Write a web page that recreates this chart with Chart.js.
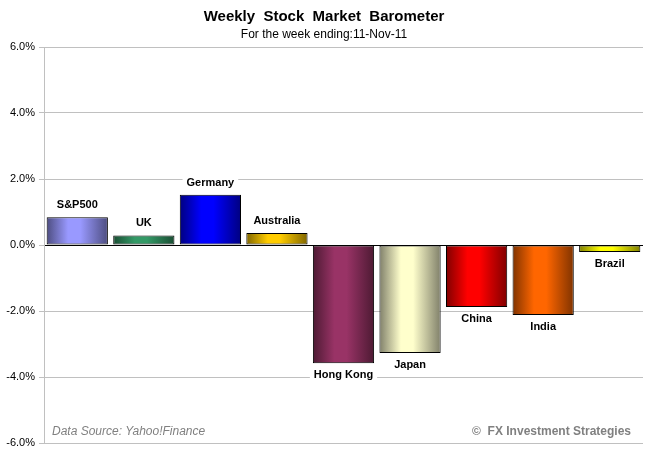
<!DOCTYPE html>
<html>
<head>
<meta charset="utf-8">
<title>Weekly Stock Market Barometer</title>
<script src="https://cdn.jsdelivr.net/npm/chart.js@4.4.1/dist/chart.umd.min.js"></script>
<style>
  body { margin: 0; background: #fff; }
  canvas { display: block; }
</style>
</head>
<body>
<canvas id="myChart" width="647" height="458"></canvas>
<script>
// weekly % change per market
const countries = ['S&P500', 'UK', 'Germany', 'Australia', 'Hong Kong', 'Japan', 'China', 'India', 'Brazil'];
const weeklyChange = [0.84, 0.29, 1.52, 0.36, -3.58, -3.27, -1.88, -2.12, -0.21];
const edgeColors = ['#4d4d80', '#1a4d33', '#000080', '#806600', '#4d1a33', '#80806a', '#800000', '#803300', '#808000'];
const midColors = ['#9999ff', '#339966', '#0000ff', '#ffcc00', '#993366', '#ffffcc', '#ff0000', '#ff6600', '#ffff00'];
const yMin = -6, yMax = 6, yStep = 2;

const FONT = '"Liberation Sans", Arial, sans-serif';

// horizontal "cylinder" gradient for each bar
const barGradients = {
  id: 'barGradients',
  beforeDatasetsDraw(chart) {
    const ctx = chart.ctx;
    chart.getDatasetMeta(0).data.forEach(function (bar, i) {
      const x0 = bar.x - bar.width / 2, x1 = bar.x + bar.width / 2;
      const g = ctx.createLinearGradient(x0, 0, x1, 0);
      g.addColorStop(0, edgeColors[i]);
      g.addColorStop(0.35, midColors[i]);
      g.addColorStop(0.55, midColors[i]);
      g.addColorStop(1, edgeColors[i]);
      bar.options.backgroundColor = g;
    });
  }
};

// titles, bar labels and footer
const extraText = {
  id: 'extraText',
  afterDraw(chart) {
    const ctx = chart.ctx;
    ctx.save();
    ctx.fillStyle = '#000';
    ctx.textAlign = 'center';
    ctx.textBaseline = 'middle';
    ctx.font = 'bold 15px ' + FONT;
    ctx.fillText('Weekly  Stock  Market  Barometer', 324, 17);
    ctx.font = '12px ' + FONT;
    ctx.fillText('For the week ending:11-Nov-11', 324, 35);

    ctx.font = 'bold 11px ' + FONT;
    chart.getDatasetMeta(0).data.forEach(function (bar, i) {
      const v = weeklyChange[i];
      const y = v >= 0 ? bar.y - 12 : bar.y + 12;
      const w = ctx.measureText(countries[i]).width;
      ctx.fillStyle = '#fff';
      ctx.fillRect(bar.x - w / 2 - 4, y - 7, w + 8, 14);
      ctx.fillStyle = '#000';
      ctx.fillText(countries[i], bar.x, y);
    });

    ctx.fillStyle = '#808080';
    ctx.textAlign = 'left';
    ctx.font = 'italic 12px ' + FONT;
    ctx.fillText('Data Source: Yahoo!Finance', 52, 432);
    ctx.textAlign = 'right';
    ctx.font = 'bold 12px ' + FONT;
    ctx.fillText('\u00A9  FX Investment Strategies', 631, 432);
    ctx.restore();
  }
};

const ctx = document.getElementById('myChart').getContext('2d');
const chart = new Chart(ctx, {
  type: 'bar',
  data: {
    labels: countries,
    datasets: [{
      data: weeklyChange,
      backgroundColor: midColors,
      borderColor: '#000',
      borderWidth: 1,
      borderSkipped: false,
      barPercentage: 0.92,
      categoryPercentage: 1.0
    }]
  },
  options: {
    responsive: false,
    animation: false,
    layout: { padding: { top: 47, right: 4, bottom: 15, left: 0 } },
    plugins: {
      legend: { display: false },
      tooltip: { enabled: false }
    },
    scales: {
      x: { display: false },
      y: {
        min: yMin,
        max: yMax,
        afterFit(scale) { scale.width = 44; },
        ticks: {
          stepSize: yStep,
          padding: 4,
          color: '#000',
          font: { family: FONT, size: 11 },
          callback: function (v) { return v.toFixed(1) + '%'; }
        },
        grid: {
          color: function (c) { return c.tick && c.tick.value === 0 ? '#000' : '#c0c0c0'; },
          tickLength: 5,
          tickColor: '#c0c0c0'
        },
        border: { color: '#c0c0c0' }
      }
    }
  },
  plugins: [barGradients, extraText]
});
</script>
</body>
</html>
